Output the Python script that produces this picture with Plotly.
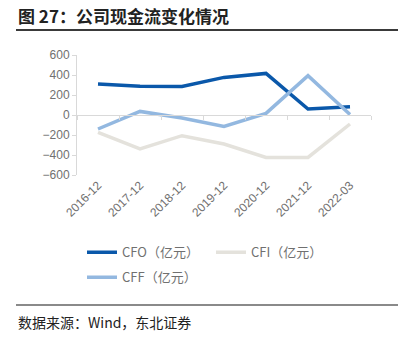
import plotly.graph_objects as go

# Cash flow summary (亿元)
periods = ["2016-12", "2017-12", "2018-12", "2019-12", "2020-12", "2021-12", "2022-03"]
cfo = [310, 288, 286, 376, 416, 60, 83]
cfi = [-174, -340, -207, -290, -424, -424, -90]
cff = [-140, 36, -30, -114, 16, 393, 5]

series_names = ["CFO（亿元）", "CFI（亿元）", "CFF（亿元）"]
series_colors = ["#0A58AA", "#E4E2DC", "#93B8E0"]
series_legends = ["legend", "legend", "legend2"]
y_ticks = [600, 400, 200, 0, -200, -400, -600]

font_main = "Liberation Sans, Noto Sans CJK SC, sans-serif"
grey_text = "#707070"

fig = go.Figure()
for name, vals, col, lg in zip(series_names, [cfo, cfi, cff], series_colors, series_legends):
    fig.add_trace(go.Scatter(
        x=periods, y=vals, name=name, mode="lines",
        line=dict(color=col, width=3.5), legend=lg,
    ))

# invisible companion trace so the zero-line axis shares the categories
fig.add_trace(go.Scatter(x=periods, y=[0] * len(periods), xaxis="x2",
                         mode="lines", line=dict(width=0), showlegend=False,
                         hoverinfo="skip"))

legend_style = dict(
    orientation="h", x=5 / 294, xanchor="left", yanchor="top",
    font=dict(size=13, color=grey_text, family="Noto Sans CJK SC"),
    entrywidth=84, itemwidth=30, tracegroupgap=0,
    bgcolor="rgba(0,0,0,0)",
)

fig.update_layout(
    width=403, height=348,
    margin=dict(l=77, r=32, t=55, b=173),
    paper_bgcolor="white", plot_bgcolor="white",
    font=dict(family=font_main, size=12, color=grey_text),
    showlegend=True,
    legend=dict(legend_style, y=-0.52),
    legend2=dict(legend_style, y=-0.52 - 25 / 120),
    xaxis=dict(
        type="category", showline=False, showgrid=False, ticks="",
        tickangle=-45, tickfont=dict(size=12, color=grey_text),
        range=[-0.5, 6.5],
    ),
    xaxis2=dict(
        type="category", overlaying="x", anchor="free", position=0.5,
        showline=True, linecolor="#D9D9D9", linewidth=1,
        ticks="outside", ticklen=4, tickcolor="#D9D9D9", tickson="boundaries",
        showticklabels=False, showgrid=False, range=[-0.5, 6.5],
    ),
    yaxis=dict(
        range=[-600, 600], tickvals=y_ticks, showgrid=False, zeroline=False,
        showline=True, linecolor="#D9D9D9", linewidth=1,
        ticks="outside", ticklen=4, tickcolor="#D9D9D9",
        tickfont=dict(size=12, color=grey_text),
    ),
)

# heading, rules and source note
fig.add_annotation(
    text="<b>图 27：公司现金流变化情况</b>", xref="paper", yref="paper",
    x=-61 / 294, y=1 + 40 / 120, xanchor="left", yanchor="middle",
    showarrow=False, font=dict(family="Noto Sans CJK SC", size=17, color="#222222"),
)
fig.add_shape(type="line", xref="paper", yref="paper",
              x0=-61 / 294, x1=1 + 27 / 294, y0=1 + 25 / 120, y1=1 + 25 / 120,
              line=dict(color="#3A3A3A", width=2))
fig.add_shape(type="line", xref="paper", yref="paper",
              x0=-61 / 294, x1=1 + 27 / 294, y0=-130 / 120, y1=-130 / 120,
              line=dict(color="#8A8A8A", width=2))
fig.add_annotation(
    text="数据来源：Wind，东北证券", xref="paper", yref="paper",
    x=-61 / 294, y=-147 / 120, xanchor="left", yanchor="middle",
    showarrow=False, font=dict(family="Noto Sans CJK SC", size=14, color="#222222"),
)

fig.write_html("out.html")
